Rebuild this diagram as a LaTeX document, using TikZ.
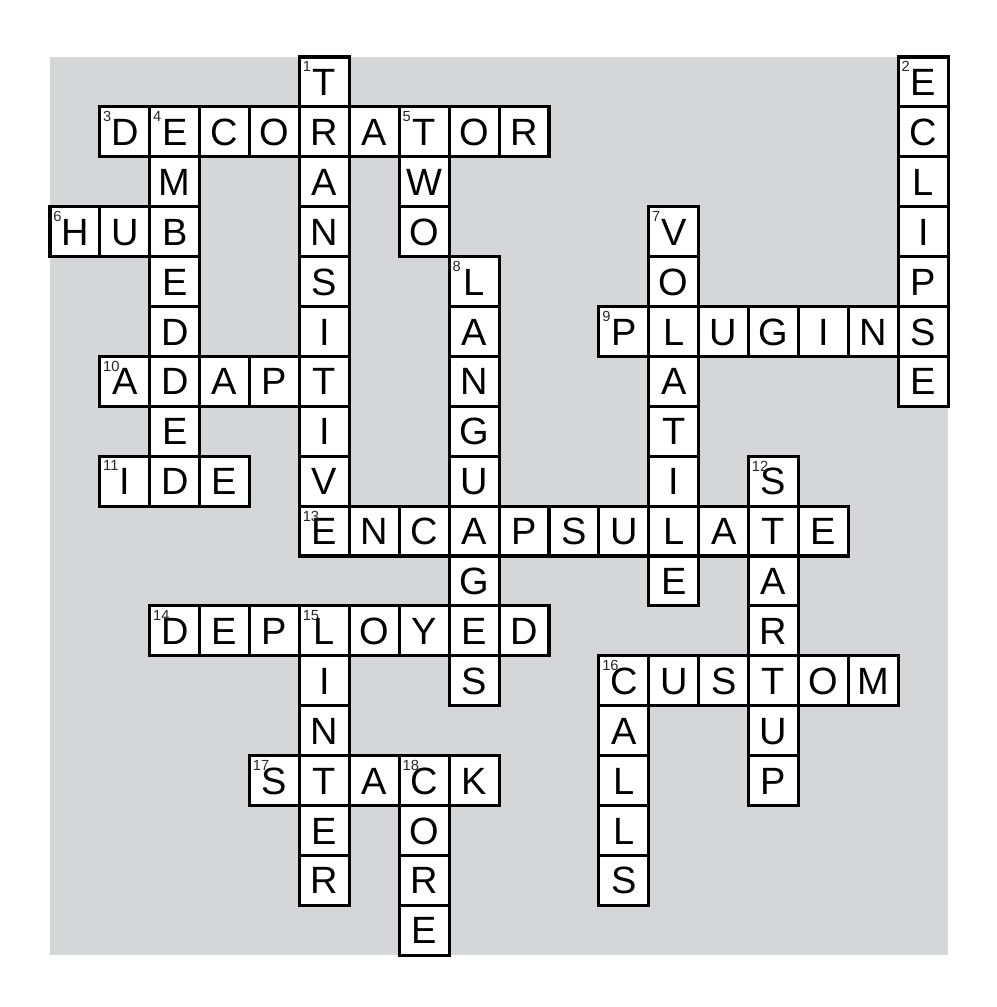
\documentclass[tikz,border=0pt]{standalone}
\usepackage{xcolor}
\usepackage{tikz}
\usepackage{fontspec}
\setmainfont{Liberation Sans}
\definecolor{gridgray}{RGB}{213, 214, 216}
\definecolor{numgray}{RGB}{40, 40, 40}
\usetikzlibrary{positioning, calc}

\begin{document}
\begin{tikzpicture}[
    x=37.425pt, y=-37.425pt,
    cell/.style={rectangle, draw=black, fill=white, line width=2.3pt, minimum size=37.425pt, inner sep=0pt, outer sep=0pt, text height=20.4pt, text depth=0pt, font=\fontsize{28.5}{30}\selectfont},
    num/.style={anchor=north west, inner sep=0pt, xshift=2.3pt, yshift=-3.3pt, text=numgray, font=\fontsize{11}{12}\selectfont}
]
    \useasboundingbox (-1.002, -1.142) rectangle (18.958, 19.038);
    \fill[gridgray] (0, 0) rectangle (18, 18);

    % down
    \foreach \ltr [count=\i from 0] in {T,R,A,N,S,I,T,I,V,E} \node[cell] (transitive\i) at (5.5, \i+0.5) {\ltr};
    \foreach \ltr [count=\i from 0] in {E,C,L,I,P,S,E} \node[cell] (eclipse\i) at (17.5, \i+0.5) {\ltr};
    \foreach \ltr [count=\i from 0] in {E,M,B,E,D,D,E,D} \node[cell] (embedded\i) at (2.5, \i+1.5) {\ltr};
    \foreach \ltr [count=\i from 0] in {T,W,O} \node[cell] (two\i) at (7.5, \i+1.5) {\ltr};
    \foreach \ltr [count=\i from 0] in {V,O,L,A,T,I,L,E} \node[cell] (volatile\i) at (12.5, \i+3.5) {\ltr};
    \foreach \ltr [count=\i from 0] in {L,A,N,G,U,A,G,E,S} \node[cell] (languages\i) at (8.5, \i+4.5) {\ltr};
    \foreach \ltr [count=\i from 0] in {S,T,A,R,T,U,P} \node[cell] (startup\i) at (14.5, \i+8.5) {\ltr};
    \foreach \ltr [count=\i from 0] in {L,I,N,T,E,R} \node[cell] (linter\i) at (5.5, \i+11.5) {\ltr};
    \foreach \ltr [count=\i from 0] in {C,A,L,L,S} \node[cell] (calls\i) at (11.5, \i+12.5) {\ltr};
    \foreach \ltr [count=\i from 0] in {C,O,R,E} \node[cell] (core\i) at (7.5, \i+14.5) {\ltr};

    % across
    \foreach \ltr [count=\i from 0] in {D,E,C,O,R,A,T,O,R} \node[cell] (decorator\i) at (\i+1.5, 1.5) {\ltr};
    \foreach \ltr [count=\i from 0] in {H,U,B} \node[cell] (hub\i) at (\i+0.5, 3.5) {\ltr};
    \foreach \ltr [count=\i from 0] in {P,L,U,G,I,N,S} \node[cell] (plugins\i) at (\i+11.5, 5.5) {\ltr};
    \foreach \ltr [count=\i from 0] in {A,D,A,P,T} \node[cell] (adapt\i) at (\i+1.5, 6.5) {\ltr};
    \foreach \ltr [count=\i from 0] in {I,D,E} \node[cell] (ide\i) at (\i+1.5, 8.5) {\ltr};
    \foreach \ltr [count=\i from 0] in {E,N,C,A,P,S,U,L,A,T,E} \node[cell] (encapsulate\i) at (\i+5.5, 9.5) {\ltr};
    \foreach \ltr [count=\i from 0] in {D,E,P,L,O,Y,E,D} \node[cell] (deployed\i) at (\i+2.5, 11.5) {\ltr};
    \foreach \ltr [count=\i from 0] in {C,U,S,T,O,M} \node[cell] (custom\i) at (\i+11.5, 12.5) {\ltr};
    \foreach \ltr [count=\i from 0] in {S,T,A,C,K} \node[cell] (stack\i) at (\i+4.5, 14.5) {\ltr};

    \node[num] (n1) at (transitive0.north west) {1};
    \node[num] (n2) at (eclipse0.north west) {2};
    \node[num] (n3) at (decorator0.north west) {3};
    \node[num] (n4) at (embedded0.north west) {4};
    \node[num] (n5) at (two0.north west) {5};
    \node[num] (n6) at (hub0.north west) {6};
    \node[num] (n7) at (volatile0.north west) {7};
    \node[num] (n8) at (languages0.north west) {8};
    \node[num] (n9) at (plugins0.north west) {9};
    \node[num] (n10) at (adapt0.north west) {10};
    \node[num] (n11) at (ide0.north west) {11};
    \node[num] (n12) at (startup0.north west) {12};
    \node[num] (n13) at (encapsulate0.north west) {13};
    \node[num] (n14) at (deployed0.north west) {14};
    \node[num] (n15) at (linter0.north west) {15};
    \node[num] (n16) at (custom0.north west) {16};
    \node[num] (n17) at (stack0.north west) {17};
    \node[num] (n18) at (core0.north west) {18};
\end{tikzpicture}
\end{document}
